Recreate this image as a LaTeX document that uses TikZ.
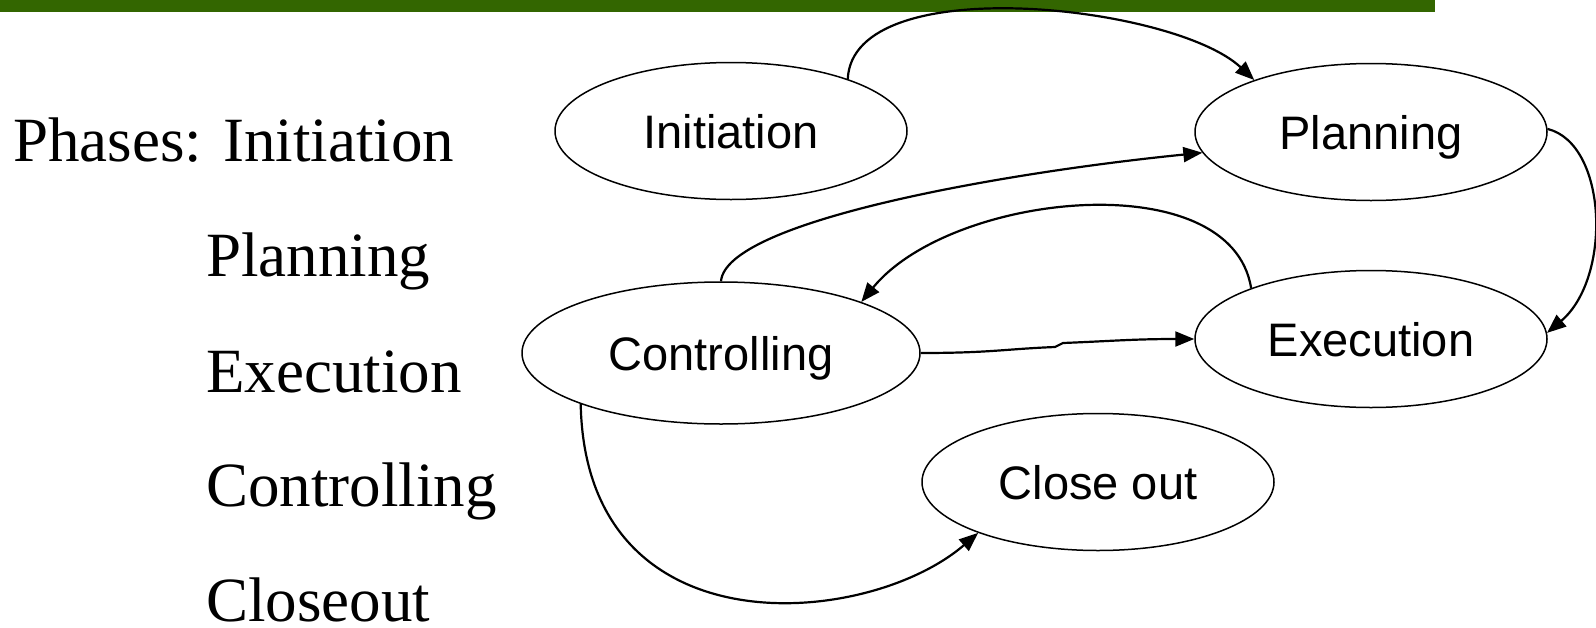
\documentclass[tikz,border=0pt]{standalone}
\usepackage{fontspec}
\setmainfont{Liberation Serif}
\newfontfamily\nodefont{Liberation Sans}
\usetikzlibrary{shapes.geometric,arrows.meta}
\definecolor{barGreen}{HTML}{336600}
\begin{document}
\begin{tikzpicture}[x=1pt,y=-1pt,
  phase/.style={ellipse, draw, line width=1.5pt, inner sep=0pt,
    minimum width=352pt, minimum height=137pt,
    font=\nodefont\fontsize{47}{47}\selectfont,
    text height=34pt, text depth=0pt},
  link/.style={line width=2.2pt, -{Triangle[length=19pt,width=15pt]}},
  listline/.style={anchor=base west, inner sep=0pt,
    font=\fontsize{63}{63}\selectfont}]
\useasboundingbox (0,0) rectangle (1596,627);

% title bar
\fill[barGreen] (0,0) rectangle (1435,12);

% list of phases
\node[listline] (l1) at (13,161) {Phases: Initiation};
\node[listline] (l2) at (206,276) {Planning};
\node[listline] (l3) at (206,392) {Execution};
\node[listline] (l4) at (206,506) {Controlling};
\node[listline] (l5) at (206,621) {Closeout};

% phase ellipses
\node[phase] (ini) at (731,131) {Initiation};
\node[phase] (pla) at (1371,132) {Planning};
\node[phase, minimum width=398pt, minimum height=142pt] (con) at (721,353) {Controlling};
\node[phase] (exe) at (1371,339) {Execution};
\node[phase] (clo) at (1098,482) {Close out};

% small step in the controlling -> execution line
\coordinate (jogA) at (1055,347);
\coordinate (jogB) at (1063,343);

% transitions
\draw[link] (ini.24) .. controls +(5,-110) and +(-80,-75) .. (pla.156);
\draw[link] (pla.1) .. controls +(60,15) and +(65,-55) .. (exe.2);
\draw[link] (con.90) .. controls +(5,-60) and +(-200,20) .. (pla.187);
\draw[link] (exe.157) .. controls +(-20,-125) and +(90,-110) .. (con.20);
\draw[link] (con.0) .. controls +(70,0) and +(-50,2) .. (jogA)
  .. controls +(3,-1) and +(-3,1) .. (jogB)
  .. controls +(50,-2) and +(-60,0) .. (exe.180);
\draw[link] (con.200) .. controls +(5,250) and +(-110,95) .. (clo.203);
\end{tikzpicture}
\end{document}
